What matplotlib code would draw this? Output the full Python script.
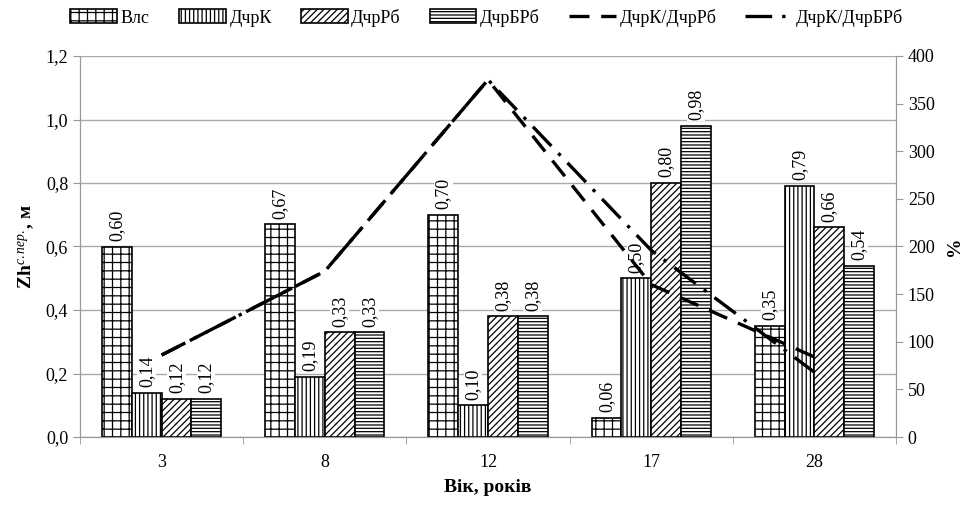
import matplotlib
matplotlib.use("Agg")
import matplotlib.pyplot as plt
import numpy as np

plt.rcParams['font.family'] = ['Liberation Serif', 'DejaVu Serif']
plt.rcParams['mathtext.fontset'] = 'custom'
plt.rcParams['mathtext.rm'] = 'Liberation Serif'
plt.rcParams['mathtext.it'] = 'Liberation Serif:italic'
plt.rcParams['mathtext.bf'] = 'Liberation Serif:bold'
plt.rcParams['hatch.linewidth'] = 0.9

categories = ['3', '8', '12', '17', '28']
vls = [0.60, 0.67, 0.70, 0.06, 0.35]
dchrk = [0.14, 0.19, 0.10, 0.50, 0.79]
dchrrb = [0.12, 0.33, 0.38, 0.80, 0.66]
dchrbrb = [0.12, 0.33, 0.38, 0.98, 0.54]
ratio_rb = [86, 174, 375, 160, 84]
ratio_brb = [86, 174, 375, 196, 68]

series = [('Влс', vls, '++'), ('ДчрК', dchrk, '||||'),
          ('ДчрРб', dchrrb, '/////'), ('ДчрБРб', dchrbrb, '-----')]

fig = plt.figure(figsize=(9.73, 5.07), dpi=100)
ax = fig.add_axes([80/973, 1-437/507, (896-80)/973, (437-56)/507])
ax2 = ax.twinx()

x = np.arange(len(categories))
w = 0.1825
handles = []
for i, (name, vals, h) in enumerate(series):
    pos = x + (i - 1.5) * w
    b = ax.bar(pos, vals, width=w, facecolor='white', edgecolor='black',
               hatch=h, linewidth=1.2, zorder=3, label=name)
    handles.append(b)
    for px, v in zip(pos, vals):
        ax.text(px, v + 0.018, f'{v:.2f}'.replace('.', ','), rotation=90,
                ha='center', va='bottom', fontsize=13, zorder=4,
                bbox=dict(facecolor='white', edgecolor='none', pad=0.5))

l1, = ax2.plot(x, ratio_rb, color='black', lw=2.4, dashes=(6, 3.5),
               label='ДчрК/ДчрРб', zorder=5)
l2, = ax2.plot(x, ratio_brb, color='black', lw=2.4, dashes=(8, 3, 1, 3),
               label='ДчрК/ДчрБРб', zorder=5)

ax.set_xlim(-0.5, len(categories) - 0.5)
ax.set_ylim(0, 1.2)
ax.set_yticks(np.arange(0, 1.21, 0.2))
ax.set_yticklabels([f'{v:.1f}'.replace('.', ',') for v in np.arange(0, 1.21, 0.2)])
ax.set_xticks(x)
ax.set_xticklabels(categories)
ax.set_xticks(np.arange(-0.5, len(categories), 1), minor=True)
ax.tick_params(axis='x', which='major', length=0, labelsize=13, pad=12)
ax.tick_params(axis='x', which='minor', length=5, color='#999999')
ax.tick_params(axis='y', labelsize=13, length=5, color='#999999')
ax.grid(axis='y', color='#aaaaaa', lw=1, zorder=0)
ax.set_axisbelow(True)

ax2.set_ylim(0, 400)
ax2.set_yticks(np.arange(0, 401, 50))
ax2.tick_params(axis='y', labelsize=13, length=5, color='#999999')

for a in (ax, ax2):
    a.spines['top'].set_visible(False)
    for s in ['left', 'right', 'bottom']:
        a.spines[s].set_color('#999999')

ax.set_ylabel('Zh$^{с.пер.}$, м', fontsize=14, fontweight='bold', labelpad=6)
ax2.set_ylabel('%', fontsize=14, fontweight='bold', labelpad=8)
ax.set_xlabel('Вік, років', fontsize=14, fontweight='bold', labelpad=6)

fig.legend(handles + [l1, l2], [s[0] for s in series] + ['ДчрК/ДчрРб', 'ДчрК/ДчрБРб'],
           loc='upper center', bbox_to_anchor=(0.5, 1.015), ncol=6, frameon=False,
           fontsize=13, handlelength=2.6, handleheight=0.8, columnspacing=1.6,
           handletextpad=0.2)

fig.savefig('out.png', dpi=100)
